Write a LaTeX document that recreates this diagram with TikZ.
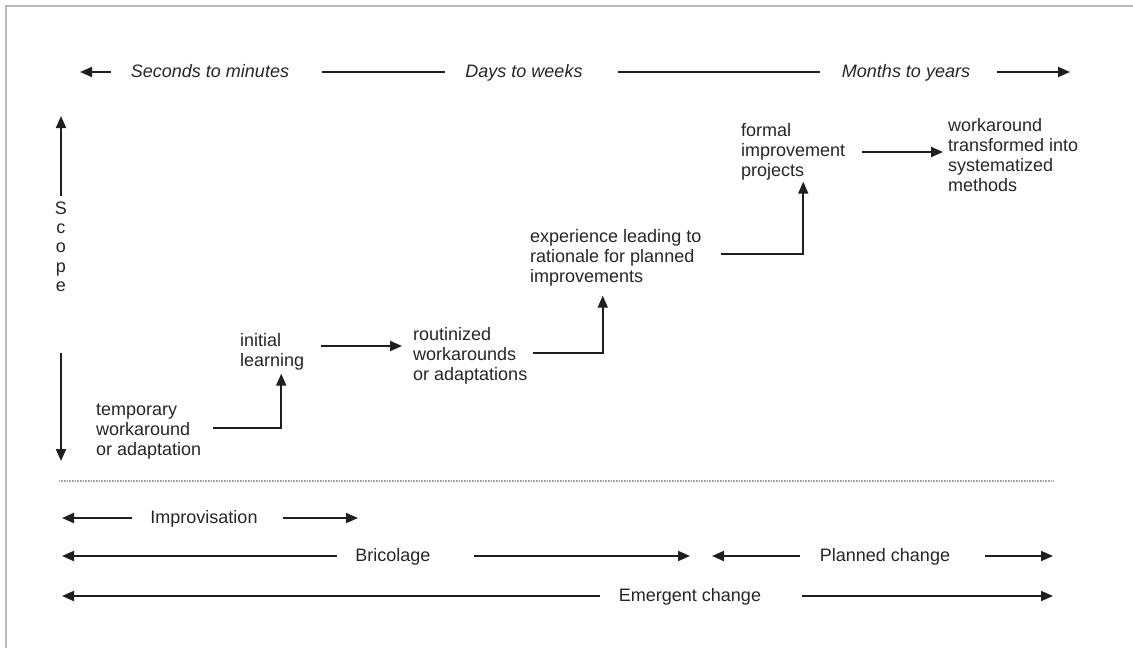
\documentclass[tikz,border=0pt]{standalone}
\usepackage{fontspec}
\setmainfont{Liberation Sans}
\usetikzlibrary{arrows.meta}
\begin{document}
\begin{tikzpicture}[x=1pt,y=-1pt,
  lbl/.style={inner sep=0pt, font=\fontsize{18}{20}\selectfont, text=black!85},
  itl/.style={inner sep=0pt, font=\fontsize{18}{20}\selectfont\itshape, text=black!85, anchor=base},
  row/.style={lbl, anchor=base},
  box/.style={lbl, align=left, anchor=north west},
  ln/.style={line width=1.9pt, draw=black!88},
  arr/.style={ln, -{Triangle[length=12pt,width=10pt]}},
  dots/.style={draw=gray!70, line width=1.3pt, dash pattern=on 0.8pt off 0.8pt},
]
\useasboundingbox (0,0) rectangle (1133,648);
\fill[white] (0,0) rectangle (1133,648);
\draw[gray!55, line width=2pt] (6,648) -- (6,6) -- (1133,6);

% time axis
\node[itl] (sec) at (210,77) {Seconds to minutes};
\node[itl] (days) at (524,77) {Days to weeks};
\node[itl] (months) at (906,77) {Months to years};
\coordinate (tl) at (80,72);
\coordinate (tr) at (1070,72);
\draw[arr] ([xshift=-20pt]sec.west |- tl) -- (tl);
\draw[ln] ([xshift=33pt]sec.east |- tl) -- ([xshift=-20pt]days.west |- tl);
\draw[ln] ([xshift=35pt]days.east |- tl) -- ([xshift=-22pt]months.west |- tl);
\draw[arr] ([xshift=27pt]months.east |- tr) -- (tr);

% scope axis
\node[inner sep=0pt, font=\fontsize{18}{19.3}\selectfont, text=black!85, align=center, anchor=north] (scope) at (61,201.5) {S\\c\\o\\p\\e};
\coordinate (su) at (61,116);
\coordinate (sd) at (61,461);
\draw[arr] ([yshift=6pt]scope.north) -- (su);
\draw[arr] ([yshift=-61pt]scope.south) -- (sd);

% steps
\node[box] (tmp) at (96,403.5) {temporary\\workaround\\or adaptation};
\node[box] (init) at (240,333.5) {initial\\learning};
\node[box] (rout) at (413,327.5) {routinized\\workarounds\\or adaptations};
\node[box] (exp) at (530,229.5) {experience leading to\\rationale for planned\\improvements};
\node[box] (formal) at (741,123.5) {formal\\improvement\\projects};
\node[box] (wt) at (948,118.5) {workaround\\transformed into\\systematized\\methods};

\draw[arr] ([xshift=12pt,yshift=-24.5pt]tmp.north east) -| ([xshift=9pt,yshift=-3pt]init.south);
\coordinate (a2) at ([xshift=17pt,yshift=-12.5pt]init.north east);
\coordinate (b2) at ([xshift=-11pt]rout.west);
\draw[arr] (a2) -- (a2 -| b2);
\draw[arr] ([xshift=6pt,yshift=-25.5pt]rout.north east) -| ([xshift=-13pt,yshift=-9pt]exp.south);
\draw[arr] ([xshift=19pt,yshift=-24.5pt]exp.north east) -| ([xshift=10pt,yshift=-1pt]formal.south);
\coordinate (a5) at ([xshift=17pt,yshift=-28.5pt]formal.north east);
\coordinate (b5) at ([xshift=-5pt]wt.west);
\draw[arr] (a5) -- (a5 -| b5);

% separator
\coordinate (d1) at (59,481);
\coordinate (d2) at (1053,481);
\draw[dots] (d1) -- (d2);

% ranges
\node[row] (imp) at (204,523) {Improvisation};
\node[row] (bri) at (393,561) {Bricolage};
\node[row] (pln) at (885,561) {Planned change};
\node[row] (emg) at (690,601) {Emergent change};

\coordinate (il) at (62,518);
\coordinate (ir) at (358,518);
\draw[arr] ([xshift=-18pt]imp.west |- il) -- (il);
\draw[arr] ([xshift=25pt]imp.east |- ir) -- (ir);

\coordinate (bl) at (62,556);
\coordinate (br) at (690,556);
\draw[arr] ([xshift=-18pt]bri.west |- bl) -- (bl);
\draw[arr] ([xshift=43pt]bri.east |- br) -- (br);

\coordinate (pl) at (712,556);
\coordinate (pr) at (1053,556);
\draw[arr] ([xshift=-20pt]pln.west |- pl) -- (pl);
\draw[arr] ([xshift=35pt]pln.east |- pr) -- (pr);

\coordinate (el) at (62,596);
\coordinate (er) at (1053,596);
\draw[arr] ([xshift=-19pt]emg.west |- el) -- (el);
\draw[arr] ([xshift=41pt]emg.east |- er) -- (er);
\end{tikzpicture}
\end{document}
